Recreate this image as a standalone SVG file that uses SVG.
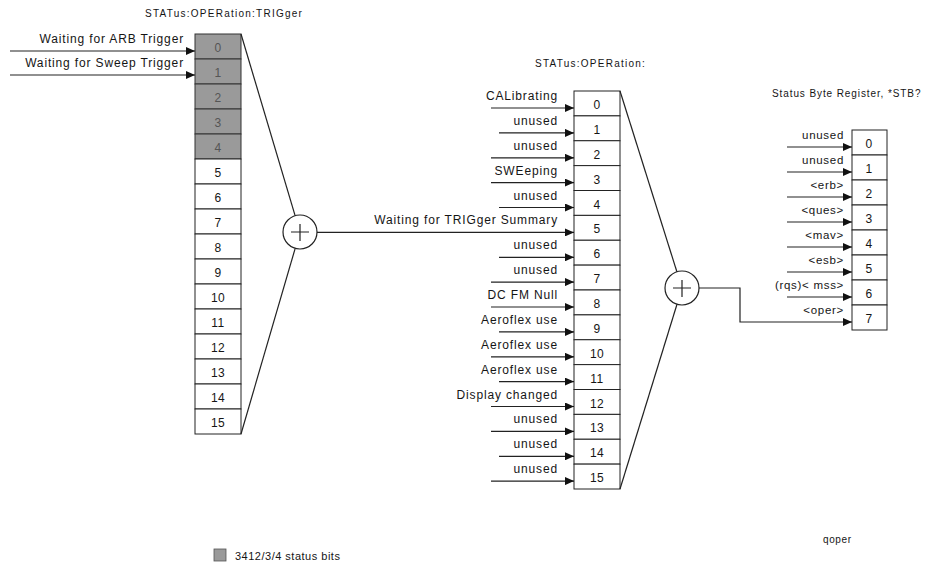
<svg xmlns="http://www.w3.org/2000/svg" width="927" height="572" viewBox="0 0 927 572">
<defs>
<style>
text{font-family:"Liberation Sans",Arial,sans-serif;fill:#151515}
.lbl{font-size:12px;letter-spacing:0.85px;text-anchor:end}
.rlbl{font-size:11.5px;letter-spacing:0.7px;text-anchor:end}
.num{font-size:12px;letter-spacing:0.4px;text-anchor:middle}
.title{font-size:10px;letter-spacing:1.25px}
.box{fill:#fff;stroke:#222;stroke-width:1}
.shade{fill:#9a9a9a;stroke:#333;stroke-width:1}
.wire{stroke:#222;stroke-width:1.2;fill:none}
.arr{marker-end:url(#ah)}
.sum{fill:#fff;stroke:#222;stroke-width:1.2}
</style>
<marker id="ah" markerUnits="userSpaceOnUse" markerWidth="10" markerHeight="8" refX="9" refY="4" orient="auto">
<path d="M0,0 L9,4 L0,8 z" fill="#111"/>
</marker>
</defs>
<rect width="927" height="572" fill="#fff"/>

<g id="titles">
<text class="title" x="145" y="17">STATus:OPERation:TRIGger</text>
<text class="title" x="535" y="67">STATus:OPERation:</text>
<text class="title" x="772" y="97" style="letter-spacing:0.9px">Status Byte Register, *STB?</text>
</g>

<g id="reg-trigger">
<rect class="shade" x="195" y="34" width="46" height="25"/>
<rect class="shade" x="195" y="59" width="46" height="25"/>
<rect class="shade" x="195" y="84" width="46" height="25"/>
<rect class="shade" x="195" y="109" width="46" height="25"/>
<rect class="shade" x="195" y="134" width="46" height="25"/>
<rect class="box" x="195" y="159" width="46" height="25"/>
<rect class="box" x="195" y="184" width="46" height="25"/>
<rect class="box" x="195" y="209" width="46" height="25"/>
<rect class="box" x="195" y="234" width="46" height="25"/>
<rect class="box" x="195" y="259" width="46" height="25"/>
<rect class="box" x="195" y="284" width="46" height="25"/>
<rect class="box" x="195" y="309" width="46" height="25"/>
<rect class="box" x="195" y="334" width="46" height="25"/>
<rect class="box" x="195" y="359" width="46" height="25"/>
<rect class="box" x="195" y="384" width="46" height="25"/>
<rect class="box" x="195" y="409" width="46" height="25"/>
<text class="num" x="218" y="51.5" style="fill:#555">0</text>
<text class="num" x="218" y="76.5" style="fill:#555">1</text>
<text class="num" x="218" y="101.5" style="fill:#555">2</text>
<text class="num" x="218" y="126.5" style="fill:#555">3</text>
<text class="num" x="218" y="151.5" style="fill:#555">4</text>
<text class="num" x="218" y="176.5">5</text>
<text class="num" x="218" y="201.5">6</text>
<text class="num" x="218" y="226.5">7</text>
<text class="num" x="218" y="251.5">8</text>
<text class="num" x="218" y="276.5">9</text>
<text class="num" x="218" y="301.5">10</text>
<text class="num" x="218" y="326.5">11</text>
<text class="num" x="218" y="351.5">12</text>
<text class="num" x="218" y="376.5">13</text>
<text class="num" x="218" y="401.5">14</text>
<text class="num" x="218" y="426.5">15</text>
<text class="lbl" x="184" y="43">Waiting for ARB Trigger</text>
<text class="lbl" x="184" y="67">Waiting for Sweep Trigger</text>
</g>

<g id="sum-trigger">
<circle class="sum" cx="300" cy="232" r="17"/>
<path class="wire" d="M291,232 H309 M300,224 V241"/>
</g>

<g id="reg-operation">
<rect class="box" x="574" y="91" width="46" height="24.875"/>
<rect class="box" x="574" y="115.875" width="46" height="24.875"/>
<rect class="box" x="574" y="140.75" width="46" height="24.875"/>
<rect class="box" x="574" y="165.625" width="46" height="24.875"/>
<rect class="box" x="574" y="190.5" width="46" height="24.875"/>
<rect class="box" x="574" y="215.375" width="46" height="24.875"/>
<rect class="box" x="574" y="240.25" width="46" height="24.875"/>
<rect class="box" x="574" y="265.125" width="46" height="24.875"/>
<rect class="box" x="574" y="290" width="46" height="24.875"/>
<rect class="box" x="574" y="314.875" width="46" height="24.875"/>
<rect class="box" x="574" y="339.75" width="46" height="24.875"/>
<rect class="box" x="574" y="364.625" width="46" height="24.875"/>
<rect class="box" x="574" y="389.5" width="46" height="24.875"/>
<rect class="box" x="574" y="414.375" width="46" height="24.875"/>
<rect class="box" x="574" y="439.25" width="46" height="24.875"/>
<rect class="box" x="574" y="464.125" width="46" height="24.875"/>
<text class="num" x="597" y="109">0</text>
<text class="num" x="597" y="133.9">1</text>
<text class="num" x="597" y="158.8">2</text>
<text class="num" x="597" y="183.6">3</text>
<text class="num" x="597" y="208.5">4</text>
<text class="num" x="597" y="233.4">5</text>
<text class="num" x="597" y="258.3">6</text>
<text class="num" x="597" y="283.1">7</text>
<text class="num" x="597" y="308">8</text>
<text class="num" x="597" y="332.9">9</text>
<text class="num" x="597" y="357.8">10</text>
<text class="num" x="597" y="382.6">11</text>
<text class="num" x="597" y="407.5">12</text>
<text class="num" x="597" y="432.4">13</text>
<text class="num" x="597" y="457.3">14</text>
<text class="num" x="597" y="482.1">15</text>
<text class="lbl" x="558" y="100">CALibrating</text>
<text class="lbl" x="558" y="124.9">unused</text>
<text class="lbl" x="558" y="149.8">unused</text>
<text class="lbl" x="558" y="174.6">SWEeping</text>
<text class="lbl" x="558" y="199.5">unused</text>
<text class="lbl" x="558" y="224.4">Waiting for TRIGger Summary</text>
<text class="lbl" x="558" y="249.3">unused</text>
<text class="lbl" x="558" y="274.1">unused</text>
<text class="lbl" x="558" y="299">DC FM Null</text>
<text class="lbl" x="558" y="323.9">Aeroflex use</text>
<text class="lbl" x="558" y="348.8">Aeroflex use</text>
<text class="lbl" x="558" y="373.6">Aeroflex use</text>
<text class="lbl" x="558" y="398.5">Display changed</text>
<text class="lbl" x="558" y="423.4">unused</text>
<text class="lbl" x="558" y="448.3">unused</text>
<text class="lbl" x="558" y="473.1">unused</text>
</g>

<g id="sum-operation">
<circle class="sum" cx="682" cy="288" r="17"/>
<path class="wire" d="M673,288 H691 M682,280 V297"/>
</g>

<g id="reg-stb">
<rect class="box" x="852" y="130" width="35" height="25"/>
<rect class="box" x="852" y="155" width="35" height="25"/>
<rect class="box" x="852" y="180" width="35" height="25"/>
<rect class="box" x="852" y="205" width="35" height="25"/>
<rect class="box" x="852" y="230" width="35" height="25"/>
<rect class="box" x="852" y="255" width="35" height="25"/>
<rect class="box" x="852" y="280" width="35" height="25"/>
<rect class="box" x="852" y="305" width="35" height="25"/>
<text class="num" x="869" y="148">0</text>
<text class="num" x="869" y="173">1</text>
<text class="num" x="869" y="198">2</text>
<text class="num" x="869" y="223">3</text>
<text class="num" x="869" y="248">4</text>
<text class="num" x="869" y="273">5</text>
<text class="num" x="869" y="298">6</text>
<text class="num" x="869" y="323">7</text>
<text class="rlbl" x="844" y="139">unused</text>
<text class="rlbl" x="844" y="164">unused</text>
<text class="rlbl" x="844" y="189">&lt;erb&gt;</text>
<text class="rlbl" x="844" y="214">&lt;ques&gt;</text>
<text class="rlbl" x="844" y="239">&lt;mav&gt;</text>
<text class="rlbl" x="844" y="264">&lt;esb&gt;</text>
<text class="rlbl" x="844" y="289">(rqs)&lt; mss&gt;</text>
<text class="rlbl" x="844" y="314">&lt;oper&gt;</text>
</g>

<g id="connectors">
<line class="wire arr" x1="10" y1="51" x2="195" y2="51"/>
<line class="wire arr" x1="10" y1="75" x2="195" y2="75"/>
<line class="wire" x1="241" y1="34" x2="295.1" y2="215.7"/>
<line class="wire" x1="241" y1="434" x2="295.2" y2="248.3"/>
<line class="wire arr" x1="317" y1="232.4" x2="574" y2="232.4"/>
<line class="wire arr" x1="491" y1="108" x2="574" y2="108"/>
<line class="wire arr" x1="499" y1="132.9" x2="574" y2="132.9"/>
<line class="wire arr" x1="491" y1="157.8" x2="574" y2="157.8"/>
<line class="wire arr" x1="491" y1="182.6" x2="574" y2="182.6"/>
<line class="wire arr" x1="499" y1="207.5" x2="574" y2="207.5"/>
<line class="wire arr" x1="499" y1="257.3" x2="574" y2="257.3"/>
<line class="wire arr" x1="491" y1="282.1" x2="574" y2="282.1"/>
<line class="wire arr" x1="491" y1="307" x2="574" y2="307"/>
<line class="wire arr" x1="499" y1="331.9" x2="574" y2="331.9"/>
<line class="wire arr" x1="491" y1="356.8" x2="574" y2="356.8"/>
<line class="wire arr" x1="499" y1="381.6" x2="574" y2="381.6"/>
<line class="wire arr" x1="491" y1="406.5" x2="574" y2="406.5"/>
<line class="wire arr" x1="491" y1="431.4" x2="574" y2="431.4"/>
<line class="wire arr" x1="499" y1="456.3" x2="574" y2="456.3"/>
<line class="wire arr" x1="491" y1="481.1" x2="574" y2="481.1"/>
<line class="wire" x1="620" y1="91" x2="676.9" y2="271.8"/>
<line class="wire" x1="620" y1="489" x2="677" y2="304.2"/>
<line class="wire arr" x1="787" y1="147" x2="852" y2="147"/>
<line class="wire arr" x1="787" y1="172" x2="852" y2="172"/>
<line class="wire arr" x1="787" y1="197" x2="852" y2="197"/>
<line class="wire arr" x1="787" y1="222" x2="852" y2="222"/>
<line class="wire arr" x1="787" y1="247" x2="852" y2="247"/>
<line class="wire arr" x1="787" y1="272" x2="852" y2="272"/>
<line class="wire arr" x1="787" y1="297" x2="852" y2="297"/>
<polyline class="wire arr" points="699,288 740,288 740,322 852,322"/>
</g>

<g id="legend">
<rect x="214" y="549" width="12" height="12" fill="#9a9a9a" stroke="#555" stroke-width="0.8"/>
<text x="235" y="560" style="font-size:11px;letter-spacing:0.5px">3412/3/4 status bits</text>
<text x="823" y="543" style="font-size:10px;letter-spacing:0.6px">qoper</text>
</g>
</svg>
